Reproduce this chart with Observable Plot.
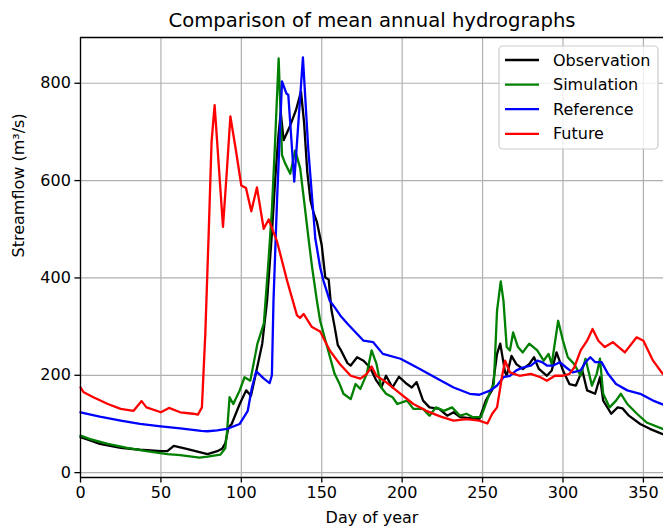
<!DOCTYPE html>
<html><head><meta charset="utf-8">
<script src="https://cdn.jsdelivr.net/npm/d3@7"></script>
<script src="https://cdn.jsdelivr.net/npm/@observablehq/plot@0.6"></script>
<style>html,body{margin:0;padding:0;background:#fff;overflow:hidden}</style>
</head><body><div id="chart"></div>
<script>
const titleText = "Comparison of mean annual hydrographs";
const xLabel = "Day of year";
const yLabel = "Streamflow (m³/s)";
const seriesNames = ["Observation", "Simulation", "Reference", "Future"];
const seriesColors = ["#000000", "#008000", "#0000ff", "#ff0000"];
const xTicks = [0, 50, 100, 150, 200, 250, 300, 350];
const yTicks = [0, 200, 400, 600, 800];

const obsDays = [0,6,12,25,37,50,54,58,62,66,74,79,85,88,90,92,94,99,103,106,109,113,116,119,121,123,124.5,126.3,130,134,137.1,139,141,143,145,147,150,152.2,154.3,156,158,160,162,166,168,172,176,180,184,187,190,194,198,203,206,209,213,217,223,228,232,236,242,248,252,256,259,261,264,265,268,271,275,279,282,285,290,293,296,300,304,308,312,315,320,323,325,330,334,337,341,348,354,362,365];
const obsFlow = [73,66,59,51,47,44,44,55,52,49,42,38,44,49,60,93,100,141,169,158,203,265,353,491,600,690,740,683,710,745,783,720,618,559,533,515,467,401,397,335,300,262,251,225,220,237,230,216,189,175,199,175,197,182,175,186,148,134,131,117,124,114,112,110,148,170,244,265,206,199,240,223,213,223,237,213,199,210,247,210,182,179,210,169,162,196,148,121,134,132,117,100,90,79,77];

const simDays = [0,6,17,29,41,54,62,74,79,87,90,91,92.7,95,99,102,105.6,110,114,117,119,121,123.2,125.3,127.3,130.4,133.5,136.6,139,142,144,147,149,152,154,158,161,163.5,168,171,174,178,181,184,187,190,194,197,203,207,213,217,221,226,231,236,240,244,249,252,255,257,259,261.3,263,265,267,269,272,275,279,284,288,291,293,297,300,303,307,311,314,318,321,323,325,329,333,336,340,346,352,362,365];
const simFlow = [76,69,59,51,44,38,36,31,33,37,50,79,155,141,169,196,189,265,306,440,540,680,851,652,635,614,662,625,559,475,422,353,312,275,251,203,183,162,151,182,172,203,251,224,175,162,155,141,148,131,131,117,134,127,134,117,121,114,114,141,169,182,333,393,353,258,251,288,258,247,265,251,230,244,223,312,271,237,223,199,234,179,203,234,162,134,148,162,141,121,103,90,87];

const refDays = [0,12,25,37,50,62,75,79,85,91,99,104,106.6,109.3,114,117.6,119,120,122.2,125.3,128,129.2,131,132.9,135.5,138.3,141.6,146,149,151,155,158,161.5,166,176,182,188,199,211,222,232,242,248,255,259,263,267,271,275,280,284,287,290,294,298,302,306,311,314,317,320,324,328,333,340,348,356,362,365];
const refFlow = [124,115,107,100,95,91,86,85,87,90,100,127,175,208,193,184,200,353,559,804,779,776,690,598,720,853,666,481,422,395,353,340,323,306,271,268,244,234,213,193,175,162,160,169,179,196,199,210,216,220,230,227,220,220,227,216,206,210,227,237,227,227,203,182,169,162,148,140,137];

const futDays = [0,2,8,17,25,33,38,41,50,55,62,70,73,75.5,77.6,79.7,81.5,83.4,86,88.6,91,93.2,96.5,100,102.9,106.2,109.7,113.9,117,122.2,128.4,134.6,136.5,138.7,143.9,149,155,161.5,168,174,178,181,184,190,199,207,215,224,232,240,248,253,256,259,261,262,264,267,273,280,286,290,295,300,304,307,311,315,318.4,322,326,331,338.5,345.8,350,356,362,365];
const futFlow = [175,165,155,141,131,127,147,134,124,133,124,121,119,134,285,491,680,755,630,505,620,732,665,590,585,537,586,501,520,475,395,323,318,326,299,290,251,222,199,193,203,218,199,186,162,141,127,115,107,110,107,101,121,134,175,196,230,206,199,203,196,189,199,199,203,216,251,271,295,271,258,268,247,278,271,230,203,195];

const xDomain = [0, 362.5];
const yDomain = [-10, 894];

const seriesData = [[obsDays, obsFlow], [simDays, simFlow], [refDays, refFlow], [futDays, futFlow]];
const rows = [];
seriesData.forEach(([days, flows], i) => days.forEach((d, j) => rows.push({series: seriesNames[i], day: d, flow: flows[j]})));

const FONT = "DejaVu Sans";
const gridStyle = {stroke: "#b0b0b0", strokeOpacity: 1, strokeWidth: 1.2};
const frameStyle = {stroke: "#000", strokeWidth: 1.3};

const chart = Plot.plot({
  width: 663, height: 528,
  marginLeft: 80, marginRight: 0, marginTop: 37, marginBottom: 51,
  style: {fontFamily: FONT, fontSize: "16px", background: "#fff", color: "#000", overflow: "hidden"},
  x: {domain: xDomain},
  y: {domain: yDomain},
  color: {domain: seriesNames, range: seriesColors},
  marks: [
    Plot.gridX(xTicks, gridStyle),
    Plot.gridY(yTicks, gridStyle),
    Plot.line(rows, {x: "day", y: "flow", z: "series", stroke: "series", strokeWidth: 2.3}),
    Plot.ruleX([xDomain[0]], frameStyle),
    Plot.ruleY([yDomain[0], yDomain[1]], frameStyle),
    Plot.axisX(xTicks, {tickSize: 5.6, tickPadding: 4, fontSize: 16, label: null, strokeWidth: 1.3}),
    Plot.axisY(yTicks, {tickSize: 5.6, tickPadding: 4, fontSize: 16, label: null, strokeWidth: 1.3}),
    Plot.text([titleText], {text: d => d, frameAnchor: "top", dy: -17, fontSize: 19.6, lineAnchor: "middle"}),
    Plot.text([xLabel], {text: d => d, frameAnchor: "bottom", dy: 40, fontSize: 16, lineAnchor: "middle"}),
    Plot.text([yLabel], {text: d => d, frameAnchor: "left", dx: -62, rotate: -90, fontSize: 16, lineAnchor: "middle"})
  ]
});

// legend (matplotlib-style, upper right inside the axes)
const svg = d3.select(chart);
const lg = svg.append("g").attr("font-family", FONT).attr("font-size", 16).attr("text-anchor", "start");
const boxX = 499, boxY = 46, boxW = 159, boxH = 103, rowY0 = 60, rowStep = 24.6;
lg.append("rect").attr("x", boxX).attr("y", boxY).attr("width", boxW).attr("height", boxH)
  .attr("rx", 4).attr("fill", "#fff").attr("fill-opacity", 0.8).attr("stroke", "#cccccc").attr("stroke-width", 1.2);
seriesNames.forEach((name, i) => {
  const y = rowY0 + i * rowStep;
  lg.append("line").attr("x1", 505).attr("x2", 539).attr("y1", y).attr("y2", y)
    .attr("stroke", seriesColors[i]).attr("stroke-width", 2.3);
  lg.append("text").attr("x", 553).attr("y", y).attr("dy", "0.35em")
    .attr("text-anchor", "start").attr("fill", "#000").text(name);
});

document.getElementById("chart").appendChild(chart);
</script>
</body></html>
